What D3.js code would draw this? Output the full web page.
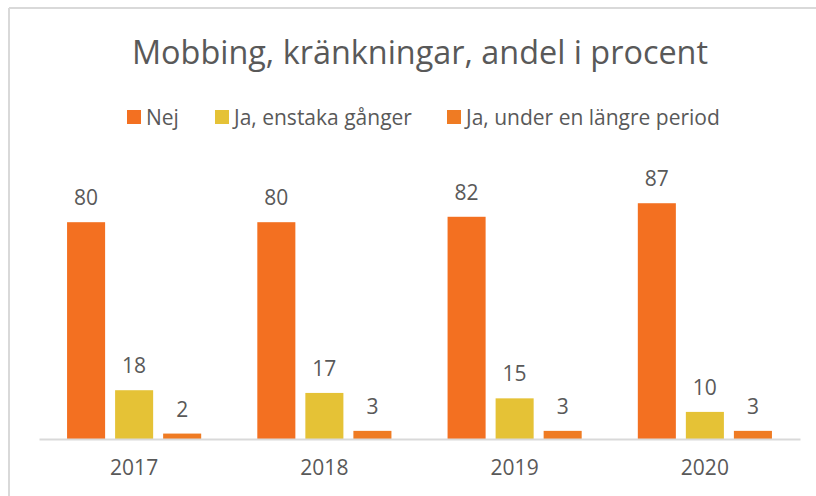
<!DOCTYPE html>
<html>
<head>
<meta charset="utf-8">
<script src="https://cdn.jsdelivr.net/npm/d3@7"></script>
<style>
  body { margin: 0; background: #fff; }
  svg text { font-family: "Open Sans", sans-serif; fill: #595959; }
</style>
</head>
<body>
<div id="chart"></div>
<script>
var width = 816, height = 496;

var years = ["2017", "2018", "2019", "2020"];
var seriesNames = ["Nej", "Ja, enstaka gånger", "Ja, under en längre period"];
var nej = [80, 80, 82, 87];
var enstaka = [18, 17, 15, 10];
var langre = [2, 3, 3, 3];
var colors = ["#F37021", "#E5C236", "#EF7B23"];

var series = [nej, enstaka, langre];

var svg = d3.select('#chart')
  .append('svg')
  .attr('width', width)
  .attr('height', height);

// frame lines (top + left)
svg.append('line')
  .attr('x1', 9).attr('x2', width).attr('y1', 8).attr('y2', 8)
  .attr('stroke', '#d9d9d9').attr('stroke-width', 2);
svg.append('line')
  .attr('x1', 9).attr('x2', 9).attr('y1', 8).attr('y2', height)
  .attr('stroke', '#d9d9d9').attr('stroke-width', 2);

var x0 = d3.scaleBand()
  .domain(years)
  .range([39, 800])
  .paddingInner(0.295)
  .paddingOuter(0.1475);

var x1 = d3.scaleBand()
  .domain(d3.range(series.length))
  .range([0, x0.bandwidth()])
  .paddingInner(0.208);

var y = d3.scaleLinear()
  .domain([0, 100])
  .range([439, 168]);

// title
svg.append('text')
  .attr('x', 420)
  .attr('y', 64)
  .attr('text-anchor', 'middle')
  .attr('font-size', 32.4)
  .text('Mobbing, kränkningar, andel i procent');

// legend
var legendX = [127, 215, 447];
var legend = svg.selectAll('.legend')
  .data(seriesNames)
  .enter()
  .append('g')
  .attr('class', 'legend')
  .attr('transform', function(d, i){ return 'translate(' + legendX[i] + ',117)'; });

legend.append('rect')
  .attr('x', 0).attr('y', -7)
  .attr('width', 14).attr('height', 14)
  .attr('fill', function(d, i){ return colors[i]; });

legend.append('text')
  .attr('x', 19)
  .attr('y', 7.5)
  .attr('font-size', 21)
  .text(function(d){ return d; });

// bars
var groups = svg.selectAll('.year')
  .data(years)
  .enter()
  .append('g')
  .attr('class', 'year')
  .attr('transform', function(d){ return 'translate(' + x0(d) + ',0)'; });

groups.selectAll('rect')
  .data(function(d, j){ return series.map(function(s, i){ return {i: i, v: s[j]}; }); })
  .enter()
  .append('rect')
  .attr('x', function(d){ return x1(d.i); })
  .attr('y', function(d){ return y(d.v); })
  .attr('width', x1.bandwidth())
  .attr('height', function(d){ return y(0) - y(d.v); })
  .attr('fill', function(d){ return colors[d.i]; });

groups.selectAll('.val')
  .data(function(d, j){ return series.map(function(s, i){ return {i: i, v: s[j]}; }); })
  .enter()
  .append('text')
  .attr('class', 'val')
  .attr('x', function(d){ return x1(d.i) + x1.bandwidth() / 2; })
  .attr('y', function(d){ return y(d.v) - 17; })
  .attr('text-anchor', 'middle')
  .attr('font-size', 21)
  .text(function(d){ return d.v; });

// x axis
var xAxis = svg.append('g')
  .attr('transform', 'translate(0,' + y(0) + ')')
  .call(d3.axisBottom(x0).tickSize(0).tickPadding(21));

xAxis.select('.domain')
  .attr('stroke', '#d9d9d9')
  .attr('stroke-width', 2);

xAxis.selectAll('text')
  .attr('font-size', 21)
  .attr('font-family', '"Open Sans", sans-serif')
  .style('fill', '#595959');
</script>
</body>
</html>
